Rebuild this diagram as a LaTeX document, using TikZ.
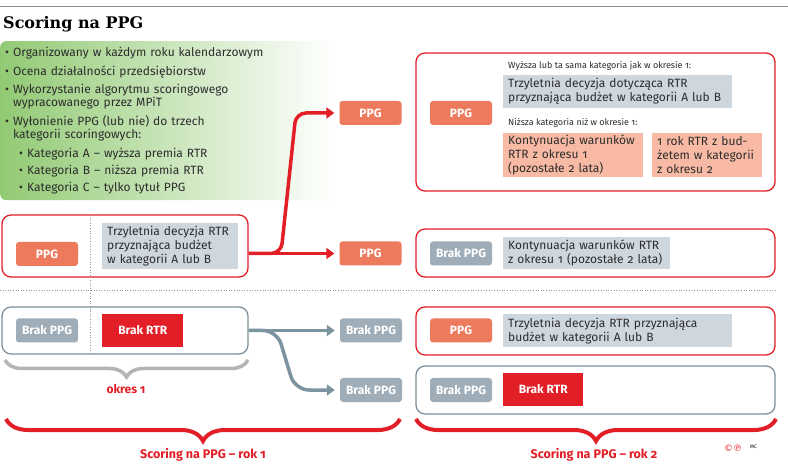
\documentclass[tikz,border=0pt]{standalone}
\usepackage{fontspec}
\setmainfont{Fira Sans}[Numbers=OldStyle]
\newfontfamily\titlefont{DejaVu Serif}
\newfontfamily\symfont{DejaVu Sans}
\usetikzlibrary{positioning}
\usetikzlibrary{arrows.meta}
\usetikzlibrary{decorations.pathreplacing}

\definecolor{salmon}{RGB}{238,122,94}
\definecolor{peach}{RGB}{248,186,164}
\definecolor{infogray}{RGB}{206,214,222}
\definecolor{slate}{RGB}{158,173,184}
\definecolor{rtrred}{RGB}{226,30,38}
\definecolor{arrowgray}{RGB}{124,147,160}
\definecolor{framegray}{RGB}{125,143,155}
\definecolor{bracegray}{RGB}{180,180,180}
\definecolor{textdark}{RGB}{45,45,45}
\definecolor{leafgreen}{RGB}{146,202,116}

\newcommand\bodysize{\fontsize{12}{14}\selectfont}

\begin{document}
\begin{tikzpicture}[x=1pt,y=-1pt,
	ppg/.style={fill=salmon,rounded corners=3pt,text=white,font=\bodysize\bfseries,minimum width=62pt,minimum height=24pt,inner sep=0pt},
	brakppg/.style={ppg,fill=slate},
	brakrtr/.style={fill=rtrred,text=white,font=\bodysize\bfseries,minimum width=81pt,minimum height=33pt,inner sep=0pt,anchor=west},
	info/.style={fill=infogray,text=textdark,font=\bodysize,align=left,inner xsep=5pt,inner ysep=2pt,anchor=north west},
	about/.style={left color=leafgreen,middle color=leafgreen!60,right color=white,rounded corners=6pt,minimum width=333pt,minimum height=159pt,text width=323pt,inner sep=5pt,align=left,anchor=north west,text=textdark,font=\fontsize{12}{13}\selectfont},
	redframe/.style={draw=rtrred,line width=1.3pt,rounded corners=9pt,inner sep=0pt},
	grayframe/.style={redframe,draw=framegray},
	redarrow/.style={rtrred,line width=3.5pt,rounded corners=10pt,-{Triangle[width=11pt,length=8pt]},shorten >=5pt},
	grayarrow/.style={redarrow,arrowgray,rounded corners=14pt},
	note/.style={font=\fontsize{9}{10}\selectfont,text=textdark,anchor=west,inner sep=0pt},
	divider/.style={draw=black!40,dotted,line width=0.6pt},
	period/.style={font=\fontsize{12.5}{14}\selectfont\bfseries,text=rtrred}]
	\useasboundingbox[fill=white] (0,0) rectangle (788,465);
	\draw[black!45,line width=0.8pt] (0,6) -- (788,6);
	\node[anchor=base west,inner sep=0pt,font=\titlefont\fontsize{16}{19}\selectfont\bfseries] (title) at (3,29) {Scoring na PPG};

	\node[about] (about) at (0,41) {%
		\textbullet\ Organizowany w każdym roku kalendarzowym\\[6pt]
		\textbullet\ Ocena działalności przedsiębiorstw\\[5pt]
		\textbullet\ Wykorzystanie algorytmu scoringowego\\
		\hspace*{8pt}wypracowanego przez MPiT\\[6pt]
		\textbullet\ Wyłonienie PPG (lub nie) do trzech\\
		\hspace*{8pt}kategorii scoringowych:\\[6pt]
		\hspace*{14pt}\textbullet\ Kategoria A – wyższa premia RTR\\[4pt]
		\hspace*{14pt}\textbullet\ Kategoria B – niższa premia RTR\\[4pt]
		\hspace*{14pt}\textbullet\ Kategoria C – tylko tytuł PPG};

	\node[redframe,minimum width=246pt,minimum height=62pt] (yearone) at (125,246) {};
	\node[grayframe,minimum width=246pt,minimum height=47pt] (noneone) at (125,330.5) {};
	\node[redframe,minimum width=359pt,minimum height=138pt] (toptwo) at (595.5,122) {};
	\node[redframe,minimum width=359pt,minimum height=48pt] (midtwo) at (595.5,253) {};
	\node[redframe,minimum width=359pt,minimum height=48pt] (lowtwo) at (595.5,331) {};
	\node[grayframe,minimum width=359pt,minimum height=48pt] (basetwo) at (595.5,390) {};

	\draw[divider] (0,290) -- (776,290);
	\draw[divider] (90,215) -- (90,355);

	\node[ppg] (ppgone) at (47,254) {PPG};
	\node[info,text width=126pt,minimum height=46pt] (decisionone) at (102,223) {Trzyletnia decyzja RTR\\przyznająca budżet\\w kategorii A lub B};
	\node[brakppg] (brakone) at (47,330.5) {Brak PPG};
	\node[brakrtr] (rtrone) at (102,330.5) {Brak RTR};

	\node[ppg] (ppgup) at (370.5,113) {PPG};
	\node[ppg] (ppgdown) at (370.5,253.5) {PPG};
	\node[brakppg] (brakup) at (371,330.5) {Brak PPG};
	\node[brakppg] (brakdown) at (371,390) {Brak PPG};

	\node[ppg] (ppgtop) at (461,113) {PPG};
	\node[note] (better) at (508,66) {Wyższa lub ta sama kategoria jak w okresie 1:};
	\node[info,text width=219pt,minimum height=33pt] (decisiontop) at (503,75) {Trzyletnia decyzja dotycząca RTR\\przyznająca budżet w kategorii A lub B};
	\node[note] (worse) at (508,123) {Niższa kategoria niż w okresie 1:};
	\node[info,fill=peach,text width=130pt,minimum height=44pt] (continuetop) at (503,133) {Kontynuacja warunków\\RTR z okresu 1\\(pozostałe 2 lata)};
	\node[info,fill=peach,text width=100pt,minimum height=44pt] (onetop) at (652,133) {1 rok RTR z bud-\\żetem w kategorii\\z okresu 2};

	\node[brakppg] (brakmid) at (461,253.5) {Brak PPG};
	\node[info,text width=157pt,minimum height=32pt] (continuemid) at (503,237) {Kontynuacja warunków RTR\\z okresu 1 (pozostałe 2 lata)};
	\node[ppg] (ppglow) at (461,330.5) {PPG};
	\node[info,text width=219pt,minimum height=33pt] (decisionlow) at (503,314) {Trzyletnia decyzja RTR przyznająca\\budżet w kategorii A lub B};
	\node[brakppg] (brakbase) at (461,390) {Brak PPG};
	\node[brakrtr,minimum width=80pt] (rtrbase) at (503,389.5) {Brak RTR};

	\draw[redarrow] (yearone.east |- ppgdown) -- (ppgdown);
	\draw[redarrow] (yearone.east |- ppgdown) -- (281,253.5) -- (296,113) -- (ppgup);
	\draw[grayarrow] (noneone.east) -- (brakup);
	\draw[grayarrow] (noneone.east) -- (277,330.5) -- (295,390) -- (brakdown);

	\draw[bracegray,line width=3.5pt,decorate,decoration={brace,mirror,amplitude=17pt}] (5,360) -- (248,360);
	\draw[rtrred,line width=4pt,decorate,decoration={brace,mirror,amplitude=22pt}] (6,419) -- (400,419);
	\draw[rtrred,line width=4pt,decorate,decoration={brace,mirror,amplitude=22pt}] (416,419) -- (776,419);

	\node[period,font=\fontsize{12}{14}\selectfont\bfseries] (periodone) at (126,389) {okres 1};
	\node[period] (yearonelabel) at (203,455) {Scoring na PPG – rok 1};
	\node[period] (yeartwolabel) at (594,455) {Scoring na PPG – rok 2};
	\node[font=\symfont\fontsize{9}{9}\selectfont,text=rtrred,anchor=west,inner sep=0pt] (copyr) at (724,448) {©℗};
	\node[font=\fontsize{5}{5}\selectfont,anchor=west,inner sep=0pt] (mc) at (750,447) {MC};
\end{tikzpicture}
\end{document}
